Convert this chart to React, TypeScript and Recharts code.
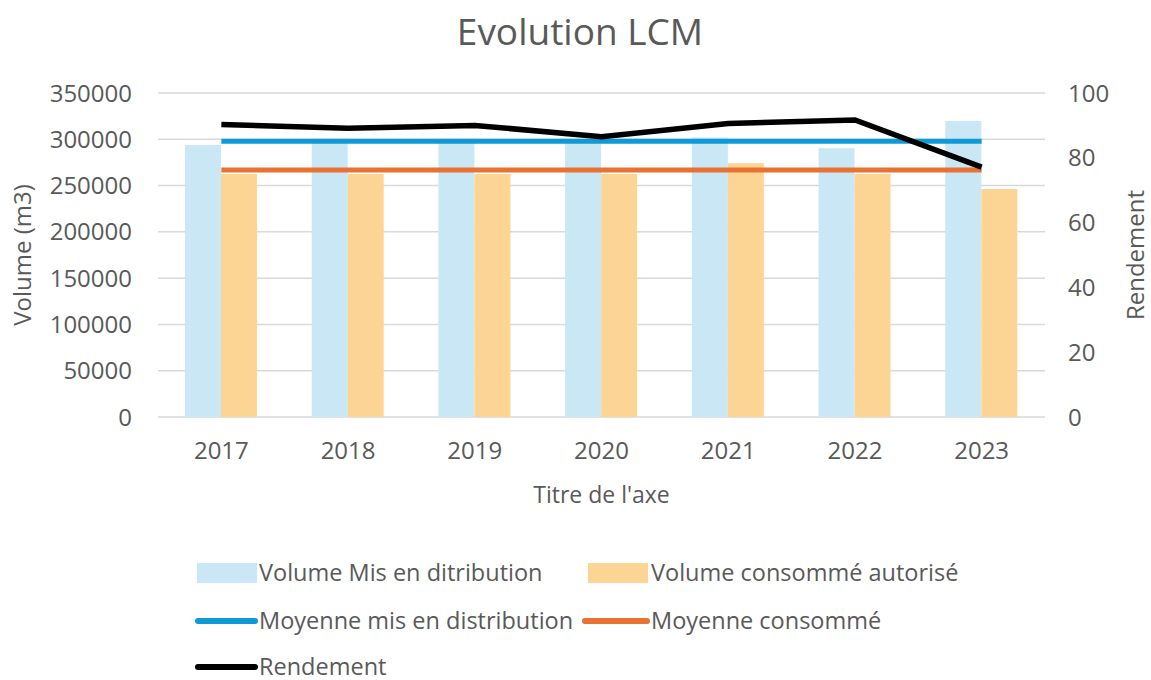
import React from "react";
import {
    ComposedChart,
    Bar,
    Line,
    XAxis,
    YAxis,
    CartesianGrid,
    Legend,
} from "recharts";

const years = ["2017", "2018", "2019", "2020", "2021", "2022", "2023"];
const volumeDistribution = [293800, 296000, 296000, 296500, 302000, 290200, 319700];
const volumeConsomme = [262500, 262500, 262500, 262500, 274000, 262500, 246300];
const moyenneDistribution = [297800, 297800, 297800, 297800, 297800, 297800, 297800];
const moyenneConsomme = [266800, 266800, 266800, 266800, 266800, 266800, 266800];
const rendement = [90.3, 89.1, 90.0, 86.5, 90.6, 91.7, 77.1];

const volumeTicks = [0, 50000, 100000, 150000, 200000, 250000, 300000, 350000];
const rendementTicks = [0, 20, 40, 60, 80, 100];

const data = years.map((year, i) => ({
    year,
    dist: volumeDistribution[i],
    conso: volumeConsomme[i],
    moyDist: moyenneDistribution[i],
    moyConso: moyenneConsomme[i],
    rendement: rendement[i],
}));

const GREY = "#595959";
const FONT = "'Open Sans', sans-serif";

// where each legend entry sits, in px inside the legend box
const legendSlots: Record<string, { x: number; y: number; w: number; tx: number }> = {
    dist: { x: 197, y: 23, w: 60, tx: 259 },
    conso: { x: 588, y: 23, w: 60, tx: 651 },
    moyDist: { x: 195, y: 71, w: 63, tx: 259 },
    moyConso: { x: 582, y: 71, w: 68, tx: 651 },
    rendement: { x: 195, y: 117, w: 63, tx: 259 },
};

const CustomLegend = ({ payload }: any) => {
    if (!payload) return null;
    return (
        <div style={{ position: "relative", width: 1151, height: 130 }}>
            {payload.map((entry: any) => {
                const slot = legendSlots[entry.dataKey];
                if (!slot) return null;
                const isBar = entry.type === "rect";
                return (
                    <React.Fragment key={entry.dataKey}>
                        <div
                            style={{
                                position: "absolute",
                                left: slot.x,
                                top: isBar ? slot.y - 10 : slot.y - 3,
                                width: slot.w,
                                height: isBar ? 20 : 6,
                                borderRadius: isBar ? 0 : 3,
                                background: entry.color,
                            }}
                        />
                        <div
                            style={{
                                position: "absolute",
                                left: slot.tx,
                                top: slot.y - 15,
                                lineHeight: "29px",
                                fontSize: 23.5,
                                fontFamily: FONT,
                                color: GREY,
                                whiteSpace: "nowrap",
                            }}
                        >
                            {entry.value}
                        </div>
                    </React.Fragment>
                );
            })}
        </div>
    );
};

export default function App() {
    return (
        <div
            style={{
                position: "absolute",
                left: 0,
                top: 0,
                width: 1151,
                height: 680,
                background: "#fff",
                fontFamily: FONT,
            }}
        >
            <div
                style={{
                    position: "absolute",
                    top: 5,
                    left: 0,
                    width: 1160,
                    textAlign: "center",
                    fontSize: 37,
                    color: GREY,
                }}
            >
                Evolution LCM
            </div>
            <ComposedChart
                width={1151}
                height={680}
                data={data}
                margin={{ top: 93, right: 0, left: 0, bottom: 173 }}
                barGap={0}
            >
                <CartesianGrid vertical={false} stroke="#d9d9d9" strokeWidth={1.5} yAxisId="left" />
                <XAxis
                    dataKey="year"
                    axisLine={false}
                    tickLine={false}
                    tickSize={0}
                    tickMargin={25}
                    height={90}
                    tick={{ fill: GREY, fontSize: 24, fontFamily: FONT }}
                    label={{
                        value: "Titre de l'axe",
                        position: "insideBottom",
                        offset: 4,
                        fill: GREY,
                        fontSize: 23,
                        fontFamily: FONT,
                    }}
                />
                <YAxis
                    yAxisId="left"
                    width={158}
                    domain={[0, 350000]}
                    ticks={volumeTicks}
                    axisLine={false}
                    tickLine={false}
                    tickSize={0}
                    tickMargin={26}
                    tick={{ fill: GREY, fontSize: 24, fontFamily: FONT }}
                    label={{
                        value: "Volume (m3)",
                        angle: -90,
                        position: "insideLeft",
                        offset: 22,
                        fill: GREY,
                        fontSize: 24,
                        fontFamily: FONT,
                        style: { textAnchor: "middle" },
                    }}
                />
                <YAxis
                    yAxisId="right"
                    orientation="right"
                    width={106}
                    domain={[0, 100]}
                    ticks={rendementTicks}
                    axisLine={false}
                    tickLine={false}
                    tickSize={0}
                    tickMargin={23}
                    tick={{ fill: GREY, fontSize: 24, fontFamily: FONT }}
                    label={{
                        value: "Rendement",
                        angle: -90,
                        position: "insideRight",
                        offset: 16,
                        fill: GREY,
                        fontSize: 24,
                        fontFamily: FONT,
                        style: { textAnchor: "middle" },
                    }}
                />
                <Bar
                    yAxisId="left"
                    dataKey="dist"
                    name="Volume Mis en ditribution"
                    fill="#c9e7f5"
                    barSize={36}
                    isAnimationActive={false}
                />
                <Bar
                    yAxisId="left"
                    dataKey="conso"
                    name="Volume consommé autorisé"
                    fill="#fcd594"
                    barSize={36}
                    isAnimationActive={false}
                />
                <Line
                    yAxisId="left"
                    dataKey="moyDist"
                    name="Moyenne mis en distribution"
                    stroke="#0e9ad6"
                    strokeWidth={5}
                    dot={false}
                    legendType="line"
                    isAnimationActive={false}
                />
                <Line
                    yAxisId="left"
                    dataKey="moyConso"
                    name="Moyenne consommé"
                    stroke="#e97132"
                    strokeWidth={5}
                    dot={false}
                    legendType="line"
                    isAnimationActive={false}
                />
                <Line
                    yAxisId="right"
                    dataKey="rendement"
                    name="Rendement"
                    type="linear"
                    stroke="#000000"
                    strokeWidth={5.5}
                    dot={false}
                    legendType="line"
                    isAnimationActive={false}
                />
                <Legend
                    layout="horizontal"
                    verticalAlign="middle"
                    align="center"
                    wrapperStyle={{ top: 550, left: 0, width: 1151, height: 130 }}
                    content={<CustomLegend />}
                />
            </ComposedChart>
        </div>
    );
}
